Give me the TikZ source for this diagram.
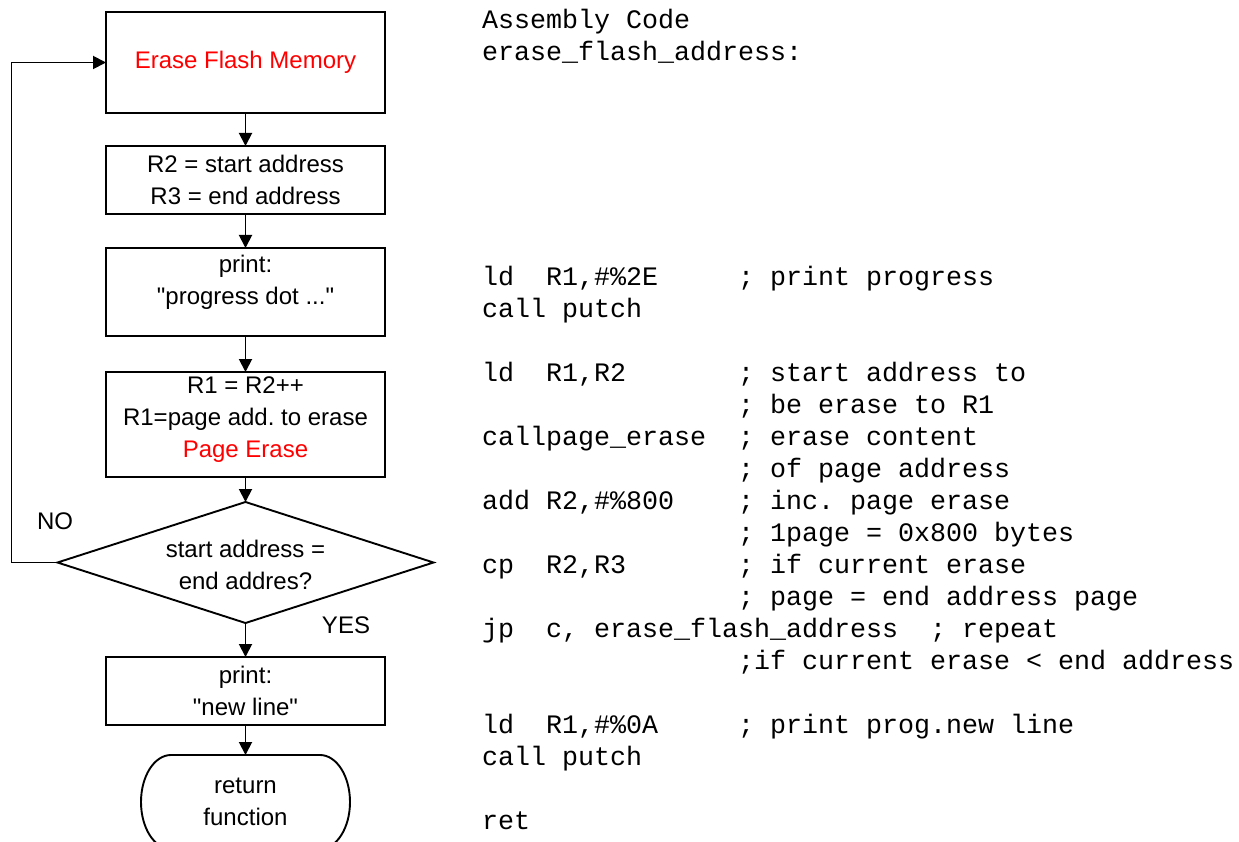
\documentclass[tikz,border=0pt]{standalone}
\usepackage{fontspec}
\setmainfont{Liberation Sans}[Ligatures=TeXOff]
\newfontfamily\codefont{Liberation Mono}[Ligatures=TeXOff]
\usetikzlibrary{arrows.meta,shapes.geometric}

\begin{document}
\frenchspacing
\begin{tikzpicture}[x=1pt,y=-1pt,
  every node/.style={inner sep=0pt, outer sep=0pt},
  box/.style={draw, line width=1.9pt, minimum width=279pt, align=center,
    font=\fontsize{24}{32}\selectfont},
  lbl/.style={align=center, font=\fontsize{24}{32}\selectfont},
  flow/.style={line width=1.9pt, -{Triangle[length=13pt,width=13pt]}},
  code/.style={anchor=base west, font=\codefont\fontsize{26.67}{32}\selectfont},
]
\useasboundingbox (0,0) rectangle (1239,842);
\fill[white] (0,0) rectangle (1239,842);

% ---- flowchart ----
\node[box, minimum height=101pt, text=red] (b1) at (245.5,62.5) {Erase Flash Memory};
\node[box, minimum height=68pt] (b2) at (245.5,180) {R2 = start address\\R3 = end address};
\node[box, minimum height=88pt] (b3) at (245.5,292) {};
\node[lbl] (b3t) at (245.5,282) {print:\\"progress dot ..."};
\node[box, minimum height=105pt] (b4) at (245.5,424.5) {};
\node[lbl] (b4t) at (245.5,420) {R1 = R2++\\R1=page add. to erase\\\textcolor{red}{Page Erase}};
\node[draw, shape=diamond, line width=1.9pt, minimum width=376pt,
      minimum height=121pt, aspect=3] (dia) at (245.5,562.5) {};
\node[lbl] (diat) at (245.5,564.5) {start address =\\end addres?};
\node[box, minimum height=68pt] (b5) at (245.5,691) {print:\\"new line"};

% terminal with elliptical ends
\node[lbl, minimum width=209pt, minimum height=94pt] (term) at (245.5,802) {return\\function};
\draw[line width=1.9pt] ([xshift=30pt]term.north west) -- ([xshift=-30pt]term.north east)
  arc[start angle=90, end angle=-90, x radius=30pt, y radius=47pt]
  -- ([xshift=30pt]term.south west)
  arc[start angle=270, end angle=90, x radius=30pt, y radius=47pt] -- cycle;

\node[lbl] (no) at (55,521) {NO};
\node[lbl] (yes) at (346,625) {YES};

\draw[flow] (b1.south) -- (b2.north);
\draw[flow] (b2.south) -- (b3.north);
\draw[flow] (b3.south) -- (b4.north);
\draw[flow] (b4.south) -- (dia.north);
\draw[flow] (dia.south) -- (b5.north);
\draw[flow] (b5.south) -- (term.north);
\draw[flow] (dia.west) -- ++(-46,0) |- (b1.west);

% ---- assembly listing (16pt per column, 32pt per line) ----
\node[code] (l0)  at (482,29)  {Assembly Code};
\node[code] (l1)  at (482,61)  {erase\_flash\_address:};
\node[code] (l8)  at (482,285) {ld\ \ R1,\#\%2E};
\node[code] (m8)  at (738,285) {; print progress};
\node[code] (l9)  at (482,317) {call putch};
\node[code] (l11) at (482,381) {ld\ \ R1,R2};
\node[code] (m11) at (738,381) {; start address to};
\node[code] (m12) at (738,413) {; be erase to R1};
\node[code] (l13) at (482,445) {callpage\_erase};
\node[code] (m13) at (738,445) {; erase content};
\node[code] (m14) at (738,477) {; of page address};
\node[code] (l15) at (482,509) {add R2,\#\%800};
\node[code] (m15) at (738,509) {; inc. page erase};
\node[code] (m16) at (738,541) {; 1page = 0x800 bytes};
\node[code] (l17) at (482,573) {cp\ \ R2,R3};
\node[code] (m17) at (738,573) {; if current erase};
\node[code] (m18) at (738,605) {; page = end address page};
\node[code] (l19) at (482,637) {jp\ \ c, erase\_flash\_address};
\node[code] (m19) at (930,637) {; repeat};
\node[code] (m20) at (738,669) {;if current erase < end address};
\node[code] (l22) at (482,733) {ld\ \ R1,\#\%0A};
\node[code] (m22) at (738,733) {; print prog.new line};
\node[code] (l23) at (482,765) {call putch};
\node[code] (l25) at (482,829) {ret};
\end{tikzpicture}
\end{document}
